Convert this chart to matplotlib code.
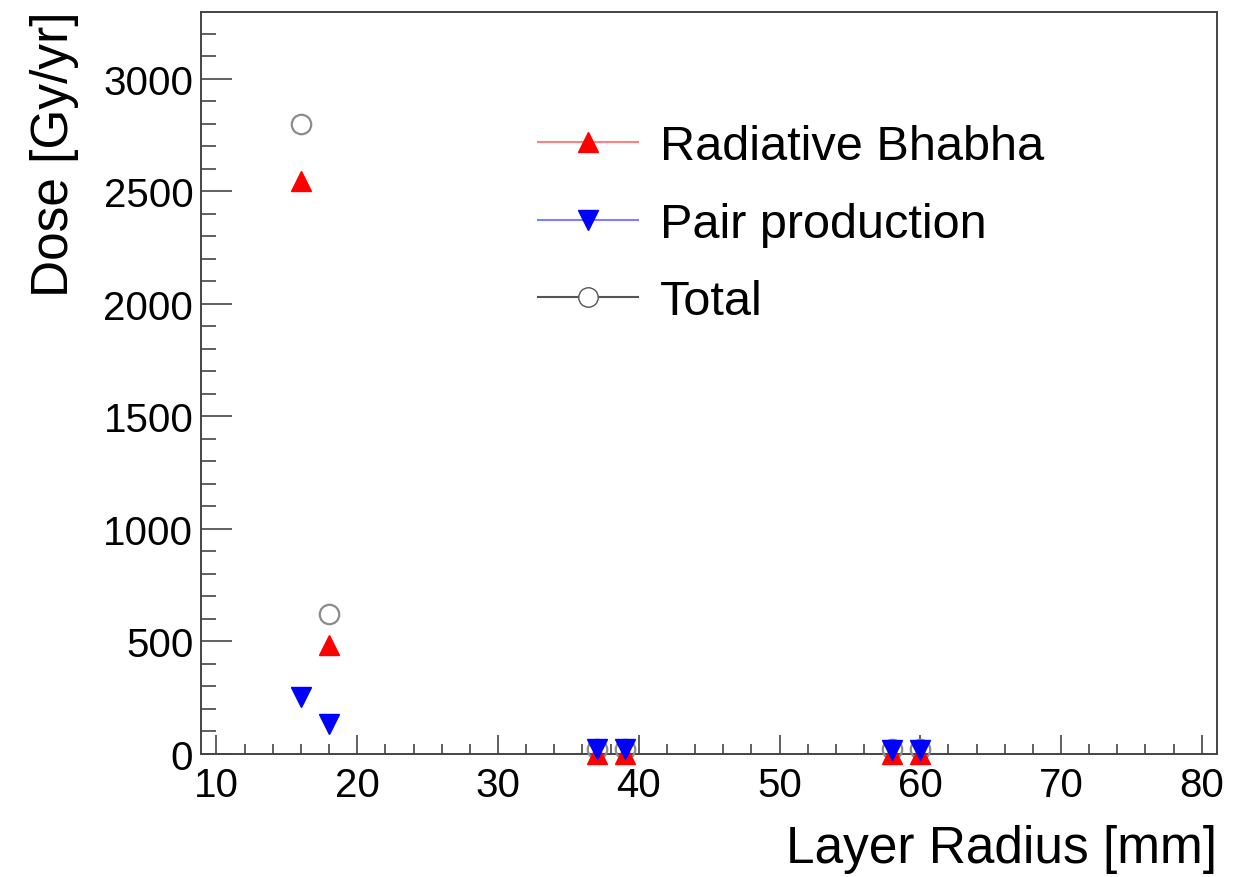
import matplotlib
matplotlib.use("Agg")
import matplotlib.pyplot as plt
from matplotlib.lines import Line2D
from matplotlib.ticker import MultipleLocator

plt.rcParams['font.family'] = ['Liberation Sans', 'DejaVu Sans']

# Data
radius = [16, 18, 37, 39, 58, 60]
rad_bhabha = [2545, 485, 2, 2, 2, 2]
pair_prod = [255, 135, 20, 20, 18, 18]
total = [2800, 620, 22, 22, 20, 20]

labels = ["Radiative Bhabha", "Pair production", "Total"]
x_label = "Layer Radius [mm]"
y_label = "Dose [Gy/yr]"

fig = plt.figure(figsize=(12.47, 8.78), dpi=100)
ax = fig.add_axes([201/1247, 1-755/878, (1216.7-201)/1247, (755-13.3)/878])

ax.plot(radius, total, linestyle='none', marker='o', ms=14, mfc='none',
        mec='#8c8c8c', mew=1.6, clip_on=False, zorder=3)
ax.plot(radius, rad_bhabha, linestyle='none', marker='^', ms=14, color='red',
        mec='red', clip_on=False, zorder=4)
ax.plot(radius, pair_prod, linestyle='none', marker='v', ms=14, color='blue',
        mec='blue', clip_on=False, zorder=5)

ax.set_xlim(8.9, 81.06)
ax.set_ylim(0, 3296)

ax.xaxis.set_major_locator(MultipleLocator(10))
ax.xaxis.set_minor_locator(MultipleLocator(2))
ax.yaxis.set_major_locator(MultipleLocator(500))
ax.yaxis.set_minor_locator(MultipleLocator(100))

ax.tick_params(axis='both', which='both', direction='in', top=False, right=False,
               color='#444444', width=1.2)
ax.tick_params(axis='x', which='major', length=14, pad=9, labelsize=29)
ax.tick_params(axis='x', which='minor', length=7)
ax.tick_params(axis='y', which='major', length=22, pad=5.5, labelsize=29)
ax.tick_params(axis='y', which='minor', length=11)
for sp in ax.spines.values():
    sp.set_color('#444444')
    sp.set_linewidth(1.4)

ax.set_xlabel(x_label, fontsize=37, ha='right', va='center')
ax.xaxis.set_label_coords(1.0, (755-850)/741.7)
ylab = ax.set_ylabel(y_label, fontsize=37)
ylab.set_rotation_mode('anchor')
ylab.set_ha('right')
ylab.set_va('center')
ax.yaxis.set_label_coords((54-201)/1015.7, (755-12)/741.7)

handles = [
    Line2D([], [], color='#ff8080', lw=1.5, marker='^', ms=14, mfc='red', mec='red'),
    Line2D([], [], color='#8080ff', lw=1.5, marker='v', ms=14, mfc='blue', mec='blue'),
    Line2D([], [], color='#555555', lw=1.5, marker='o', ms=14, mfc='white', mec='#555555'),
]
leg = ax.legend(handles, labels, loc='upper left', frameon=False, fontsize=35,
                handlelength=2.05, handletextpad=0.45, labelspacing=0.66,
                bbox_to_anchor=((519-201)/1015.7, (755-106)/741.7), borderaxespad=0)

fig.savefig("out.png", dpi=100)
